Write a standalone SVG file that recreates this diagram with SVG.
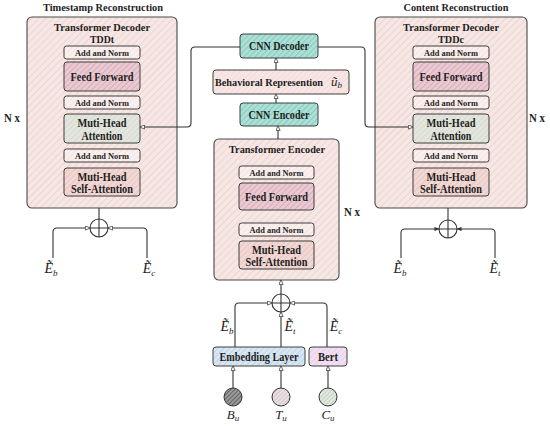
<svg xmlns="http://www.w3.org/2000/svg" width="550" height="426" viewBox="0 0 550 426">
<defs>
<pattern id="pDec" patternUnits="userSpaceOnUse" width="5" height="5" patternTransform="rotate(45)"><rect width="5" height="5" fill="#f7e7e4"/><line x1="0" y1="0" x2="0" y2="5" stroke="#e6c9c4" stroke-width="1.2"/></pattern>
<pattern id="pAdd" patternUnits="userSpaceOnUse" width="4" height="4" patternTransform="rotate(45)"><rect width="4" height="4" fill="#fbf0ee"/><line x1="0" y1="0" x2="0" y2="4" stroke="#ecd8d5" stroke-width="1"/></pattern>
<pattern id="pFF" patternUnits="userSpaceOnUse" width="4" height="4" patternTransform="rotate(45)"><rect width="4" height="4" fill="#eacad2"/><line x1="0" y1="0" x2="0" y2="4" stroke="#c98fa0" stroke-width="1"/></pattern>
<pattern id="pMHA" patternUnits="userSpaceOnUse" width="4" height="4" patternTransform="rotate(45)"><rect width="4" height="4" fill="#e3e6dd"/><line x1="0" y1="0" x2="0" y2="4" stroke="#c9cfbf" stroke-width="1"/></pattern>
<pattern id="pSA" patternUnits="userSpaceOnUse" width="4" height="4" patternTransform="rotate(45)"><rect width="4" height="4" fill="#f2d8d5"/><line x1="0" y1="0" x2="0" y2="4" stroke="#deb2ad" stroke-width="1"/></pattern>
<pattern id="pCNN" patternUnits="userSpaceOnUse" width="4" height="4" patternTransform="rotate(45)"><rect width="4" height="4" fill="#ace0d6"/><line x1="0" y1="0" x2="0" y2="4" stroke="#62b6a6" stroke-width="1"/></pattern>
<pattern id="pBeh" patternUnits="userSpaceOnUse" width="4" height="4" patternTransform="rotate(45)"><rect width="4" height="4" fill="#f8e6e5"/><line x1="0" y1="0" x2="0" y2="4" stroke="#ead0ce" stroke-width="1"/></pattern>
<pattern id="pEmb" patternUnits="userSpaceOnUse" width="4" height="4" patternTransform="rotate(45)"><rect width="4" height="4" fill="#d8e6f2"/><line x1="0" y1="0" x2="0" y2="4" stroke="#a9c4dc" stroke-width="1"/></pattern>
<pattern id="pBert" patternUnits="userSpaceOnUse" width="4" height="4" patternTransform="rotate(45)"><rect width="4" height="4" fill="#f2e0f2"/><line x1="0" y1="0" x2="0" y2="4" stroke="#dcc0dc" stroke-width="1"/></pattern>
<pattern id="pB" patternUnits="userSpaceOnUse" width="3" height="3" patternTransform="rotate(45)"><rect width="3" height="3" fill="#9a9a9a"/><line x1="0" y1="0" x2="0" y2="3" stroke="#3c3c3c" stroke-width="1.2"/></pattern>
<pattern id="pT" patternUnits="userSpaceOnUse" width="3" height="3" patternTransform="rotate(45)"><rect width="3" height="3" fill="#eadfe3"/><line x1="0" y1="0" x2="0" y2="3" stroke="#bcb0b4" stroke-width="1"/></pattern>
<pattern id="pC" patternUnits="userSpaceOnUse" width="3" height="3" patternTransform="rotate(45)"><rect width="3" height="3" fill="#e2eadf"/><line x1="0" y1="0" x2="0" y2="3" stroke="#aeb9aa" stroke-width="1"/></pattern>
<marker id="ah" viewBox="0 0 6 6" refX="5.5" refY="3" markerWidth="5" markerHeight="5" orient="auto" markerUnits="userSpaceOnUse"><path d="M0,0.5 L6,3 L0,5.5 Z" fill="#fff" stroke="#333" stroke-width="0.9"/></marker>
<marker id="ahf" viewBox="0 0 6 6" refX="5.5" refY="3" markerWidth="5" markerHeight="5" orient="auto" markerUnits="userSpaceOnUse"><path d="M0,0.5 L6,3 L0,5.5 Z" fill="#333"/></marker>
</defs>
<style>
text{font-family:"Liberation Serif","Times New Roman",serif;font-weight:bold;fill:#1e1e1e;text-anchor:middle}
.ttl{font-size:10.8px}
.hd{font-size:11px}
.sm{font-size:9px}
.md{font-size:11.5px}
.math{font-weight:normal;font-style:italic;font-size:13px}
.sub{font-size:9px}
.big{stroke:#4a4a4a;stroke-width:1.1}
.in{stroke:#3e3e3e;stroke-width:1}
.ln{fill:none;stroke:#333;stroke-width:1.1}
.plus{fill:#fff;stroke:#333;stroke-width:1.1}
</style>

<text class="ttl" x="103" y="11" textLength="120" lengthAdjust="spacingAndGlyphs">Timestamp Reconstruction</text>
<text class="ttl" x="456" y="11" textLength="105" lengthAdjust="spacingAndGlyphs">Content Reconstruction</text>

<g id="decoder-t">
<rect class="big" x="27" y="17" width="150" height="191" rx="5" fill="url(#pDec)"/>
<text class="hd" x="102" y="30.5" textLength="96" lengthAdjust="spacingAndGlyphs">Transformer Decoder</text>
<text class="hd" x="102" y="43" textLength="24" lengthAdjust="spacingAndGlyphs">TDDt</text>
<rect class="in" x="64" y="46" width="76" height="13" rx="2.5" fill="url(#pAdd)"/>
<text class="sm" x="102" y="56.3" textLength="54" lengthAdjust="spacingAndGlyphs">Add and Norm</text>
<rect class="in" x="64" y="62" width="76" height="29" rx="3" fill="url(#pFF)"/>
<text class="md" x="102" y="80.5" textLength="63" lengthAdjust="spacingAndGlyphs">Feed Forward</text>
<rect class="in" x="64" y="96" width="76" height="13" rx="2.5" fill="url(#pAdd)"/>
<text class="sm" x="102" y="106.3" textLength="54" lengthAdjust="spacingAndGlyphs">Add and Norm</text>
<rect class="in" x="64" y="114" width="76" height="29" rx="3" fill="url(#pMHA)"/>
<text class="md" x="102" y="127" textLength="49" lengthAdjust="spacingAndGlyphs">Muti-Head</text>
<text class="md" x="102" y="139.5" textLength="41" lengthAdjust="spacingAndGlyphs">Attention</text>
<rect class="in" x="64" y="149" width="76" height="13" rx="2.5" fill="url(#pAdd)"/>
<text class="sm" x="102" y="159.3" textLength="54" lengthAdjust="spacingAndGlyphs">Add and Norm</text>
<rect class="in" x="64" y="168" width="76" height="28" rx="3" fill="url(#pSA)"/>
<text class="md" x="102" y="180.5" textLength="49" lengthAdjust="spacingAndGlyphs">Muti-Head</text>
<text class="md" x="102" y="193" textLength="62" lengthAdjust="spacingAndGlyphs">Self-Attention</text>
</g>
<text class="md" x="12" y="122" textLength="16" lengthAdjust="spacingAndGlyphs">N x</text>

<g id="decoder-c">
<rect class="big" x="375" y="17" width="152" height="191" rx="5" fill="url(#pDec)"/>
<text class="hd" x="451" y="30.5" textLength="96" lengthAdjust="spacingAndGlyphs">Transformer Decoder</text>
<text class="hd" x="451" y="43" textLength="26" lengthAdjust="spacingAndGlyphs">TDDc</text>
<rect class="in" x="413" y="46" width="76" height="13" rx="2.5" fill="url(#pAdd)"/>
<text class="sm" x="451" y="56.3" textLength="54" lengthAdjust="spacingAndGlyphs">Add and Norm</text>
<rect class="in" x="413" y="62" width="76" height="29" rx="3" fill="url(#pFF)"/>
<text class="md" x="451" y="80.5" textLength="63" lengthAdjust="spacingAndGlyphs">Feed Forward</text>
<rect class="in" x="413" y="96" width="76" height="13" rx="2.5" fill="url(#pAdd)"/>
<text class="sm" x="451" y="106.3" textLength="54" lengthAdjust="spacingAndGlyphs">Add and Norm</text>
<rect class="in" x="413" y="114" width="76" height="29" rx="3" fill="url(#pMHA)"/>
<text class="md" x="451" y="127" textLength="49" lengthAdjust="spacingAndGlyphs">Muti-Head</text>
<text class="md" x="451" y="139.5" textLength="41" lengthAdjust="spacingAndGlyphs">Attention</text>
<rect class="in" x="413" y="149" width="76" height="13" rx="2.5" fill="url(#pAdd)"/>
<text class="sm" x="451" y="159.3" textLength="54" lengthAdjust="spacingAndGlyphs">Add and Norm</text>
<rect class="in" x="413" y="168" width="76" height="28" rx="3" fill="url(#pSA)"/>
<text class="md" x="451" y="180.5" textLength="49" lengthAdjust="spacingAndGlyphs">Muti-Head</text>
<text class="md" x="451" y="193" textLength="62" lengthAdjust="spacingAndGlyphs">Self-Attention</text>
</g>
<text class="md" x="537" y="122" textLength="16" lengthAdjust="spacingAndGlyphs">N x</text>

<g id="cnn-decoder">
<rect class="in" x="240" y="34" width="78" height="24" rx="3" fill="url(#pCNN)"/>
<text class="md" x="279" y="50" textLength="60" lengthAdjust="spacingAndGlyphs">CNN Decoder</text>
</g>
<g id="behavioral">
<rect class="in" x="213" y="70" width="136" height="24" rx="3" fill="url(#pBeh)"/>
<text class="md" x="215" y="86" style="text-anchor:start;font-size:10.5px" textLength="108" lengthAdjust="spacingAndGlyphs">Behavioral Represention</text>
<text class="math" x="331" y="86" style="text-anchor:start">ũ<tspan class="sub" dy="2">b</tspan></text>
</g>
<g id="cnn-encoder">
<rect class="in" x="240" y="103" width="78" height="23" rx="3" fill="url(#pCNN)"/>
<text class="md" x="279" y="118.5" textLength="61" lengthAdjust="spacingAndGlyphs">CNN Encoder</text>
</g>

<g id="encoder">
<rect class="big" x="214" y="139" width="125" height="141" rx="5" fill="url(#pDec)"/>
<text class="hd" x="277" y="153" textLength="96" lengthAdjust="spacingAndGlyphs">Transformer Encoder</text>
<rect class="in" x="239" y="166" width="75" height="13" rx="2.5" fill="url(#pAdd)"/>
<text class="sm" x="276.5" y="176.3" textLength="54" lengthAdjust="spacingAndGlyphs">Add and Norm</text>
<rect class="in" x="239" y="183" width="75" height="27" rx="3" fill="url(#pFF)"/>
<text class="md" x="276.5" y="200.5" textLength="63" lengthAdjust="spacingAndGlyphs">Feed Forward</text>
<rect class="in" x="239" y="223" width="75" height="13" rx="2.5" fill="url(#pAdd)"/>
<text class="sm" x="276.5" y="233.3" textLength="54" lengthAdjust="spacingAndGlyphs">Add and Norm</text>
<rect class="in" x="239" y="241" width="75" height="28" rx="3" fill="url(#pSA)"/>
<text class="md" x="276.5" y="253.5" textLength="49" lengthAdjust="spacingAndGlyphs">Muti-Head</text>
<text class="md" x="276.5" y="266" textLength="62" lengthAdjust="spacingAndGlyphs">Self-Attention</text>
</g>
<text class="md" x="352" y="216" textLength="16" lengthAdjust="spacingAndGlyphs">N x</text>

<g id="embedding">
<rect class="in" x="213" y="347" width="92" height="19" rx="3" fill="url(#pEmb)"/>
<text class="md" x="259" y="360.5" textLength="79" lengthAdjust="spacingAndGlyphs">Embedding Layer</text>
</g>
<g id="bert">
<rect class="in" x="309" y="347" width="38" height="19" rx="3" fill="url(#pBert)"/>
<text class="md" x="328" y="360.5" textLength="20" lengthAdjust="spacingAndGlyphs">Bert</text>
</g>

<g id="inputs">
<circle cx="233" cy="397" r="9" fill="url(#pB)" stroke="#333" stroke-width="1"/>
<circle cx="281" cy="397" r="9" fill="url(#pT)" stroke="#333" stroke-width="1"/>
<circle cx="328" cy="397" r="9" fill="url(#pC)" stroke="#333" stroke-width="1"/>
<text class="math" x="233" y="419">B<tspan class="sub" dy="2">u</tspan></text>
<text class="math" x="281" y="419">T<tspan class="sub" dy="2">u</tspan></text>
<text class="math" x="328" y="419">C<tspan class="sub" dy="2">u</tspan></text>
</g>

<g id="sum-nodes">
<g id="sum-t"><circle class="plus" cx="99" cy="228" r="9"/><path class="ln" d="M90,228 H108 M99,219 V237"/></g>
<g id="sum-c"><circle class="plus" cx="448" cy="229" r="9"/><path class="ln" d="M439,229 H457 M448,220 V238"/></g>
<g id="sum-e"><circle class="plus" cx="281" cy="303" r="9"/><path class="ln" d="M272,303 H290 M281,294 V312"/></g>
</g>

<g id="connectors">
<path class="ln" d="M240,47 H195 Q191,47 191,51 V123 Q191,127 187,127 H140" marker-end="url(#ah)"/>
<path class="ln" d="M318,47 H361 Q365,47 365,51 V123 Q365,127 369,127 H413" marker-end="url(#ah)"/>
<path class="ln" d="M276,70 V58" marker-end="url(#ah)"/>
<path class="ln" d="M276,103 V94" marker-end="url(#ah)"/>
<path class="ln" d="M278,139 V126" marker-end="url(#ah)"/>
<path class="ln" d="M99,208 V219"/>
<path class="ln" d="M53,258 V232 Q53,228 57,228 H90" marker-end="url(#ah)"/>
<path class="ln" d="M147,258 V232 Q147,228 143,228 H108" marker-end="url(#ah)"/>
<path class="ln" d="M448,208 V220"/>
<path class="ln" d="M401,258 V233 Q401,229 405,229 H439" marker-end="url(#ahf)"/>
<path class="ln" d="M495,258 V233 Q495,229 491,229 H457" marker-end="url(#ahf)"/>
<path class="ln" d="M281,294 V280" marker-end="url(#ah)"/>
<path class="ln" d="M235,347 V307 Q235,303 239,303 H272" marker-end="url(#ah)"/>
<path class="ln" d="M281,347 V312" marker-end="url(#ah)"/>
<path class="ln" d="M327,347 V307 Q327,303 323,303 H290" marker-end="url(#ah)"/>
<path class="ln" d="M233,388 V366" marker-end="url(#ah)"/>
<path class="ln" d="M281,388 V366" marker-end="url(#ah)"/>
<path class="ln" d="M328,388 V366" marker-end="url(#ah)"/>
</g>

<g id="labels">
<text class="math" x="51" y="273" style="font-size:14px">Ẽ<tspan class="sub" dy="3">b</tspan></text>
<text class="math" x="149" y="273" style="font-size:14px">Ẽ<tspan class="sub" dy="3">c</tspan></text>
<text class="math" x="400" y="273" style="font-size:14px">Ẽ<tspan class="sub" dy="3">b</tspan></text>
<text class="math" x="495" y="273" style="font-size:14px">Ẽ<tspan class="sub" dy="3">t</tspan></text>
<text class="math" x="227" y="331" style="font-size:14px">Ẽ<tspan class="sub" dy="3">b</tspan></text>
<text class="math" x="290" y="331" style="font-size:14px">Ẽ<tspan class="sub" dy="3">t</tspan></text>
<text class="math" x="336" y="331" style="font-size:14px">Ẽ<tspan class="sub" dy="3">c</tspan></text>
</g>
</svg>
